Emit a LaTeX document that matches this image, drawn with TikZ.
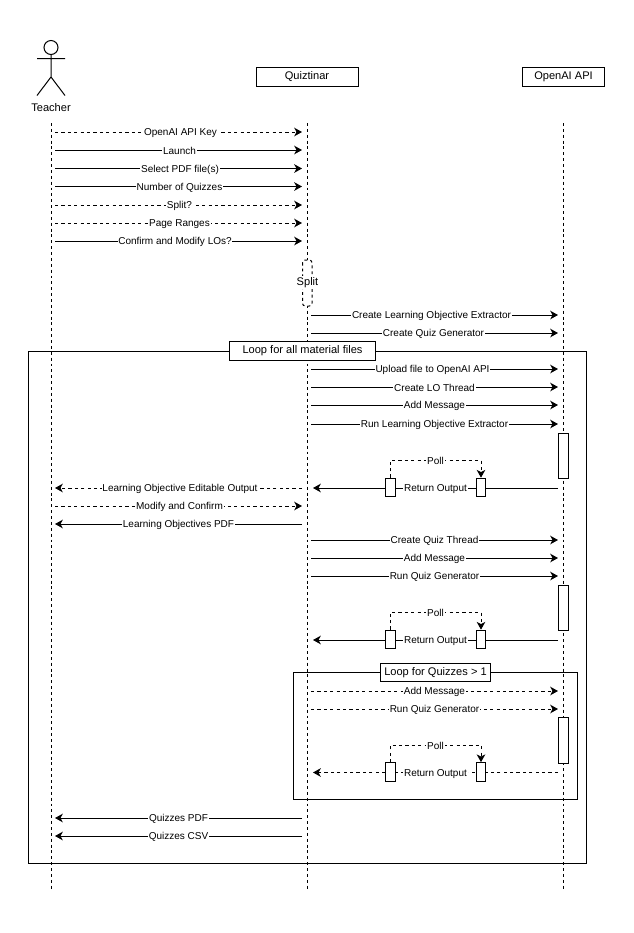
\documentclass[tikz,border=0pt]{standalone}
\usepackage{fontspec}
\setmainfont{Liberation Sans}
\usetikzlibrary{arrows.meta,calc}
\tikzset{
  wire/.style={line width=0.75pt,draw=black},
  solidmsg/.style={wire,-{Stealth[length=5.8pt,width=6.4pt,inset=1.6pt]}},
  dashmsg/.style={solidmsg,dash pattern=on 2.4pt off 2.4pt},
  lifeline/.style={wire,dash pattern=on 2.2pt off 2.2pt},
  txt/.style={font=\fontsize{8.3pt}{9.5pt}\selectfont,inner sep=0.6pt,text=black},
  msglabel/.style={font=\fontsize{7.5pt}{8.5pt}\selectfont,inner sep=0.6pt,text=black,fill=white,yshift=-0.8pt},
  headbox/.style={wire,fill=white,txt,inner sep=0pt,minimum height=14.25pt},
  actbox/.style={wire,fill=white,inner sep=0pt,minimum width=7pt},
  framebox/.style={wire},
  looplabel/.style={wire,fill=white,txt,inner sep=0pt,minimum height=14pt},
}
\newcommand{\msgline}[7]{% name, y, x1, x2, style, label, label x shift
  \coordinate (#1a) at (#3,#2);
  \coordinate (#1b) at (#4,#2);
  \draw[#5] (#1a) -- (#1b);
  \node[msglabel] (#1l) at ($(#1a)!0.5!(#1b)+(#7,0)$) {#6};
}
\newcommand{\pollblock}[6]{% prefix, act top, act bottom, poll y, box top, arrow style
  \node[actbox,minimum height={(#3-#2)*0.75pt}] (#1act) at (563.5,{(#2+#3)/2}) {};
  \coordinate (#1from) at (558,{#5+10});
  \coordinate (#1to) at (313,{#5+10});
  \draw[#6] (#1from) -- (#1to);
  \node[actbox,minimum height=14pt] (#1boxa) at (390.5,{#5+9.5}) {};
  \node[actbox,minimum height=14pt] (#1boxb) at (481,{#5+9.5}) {};
  \node[msglabel] (#1ret) at (435.5,{#5+10}) {Return Output};
  \draw[dashmsg] (#1boxa.north) |- (481,#4) -- (#1boxb.north);
  \node[msglabel] (#1poll) at (435.5,#4) {Poll};
}
\begin{document}
\begin{tikzpicture}[x=0.75pt,y=-0.75pt]
\useasboundingbox[fill=white] (0,0) rectangle (633,933);
% lifelines
\coordinate (tTop) at (51,123); \coordinate (tBot) at (51,891);
\coordinate (qTop) at (307,123); \coordinate (qBot) at (307,891);
\coordinate (oTop) at (563,123); \coordinate (oBot) at (563,891);
\draw[lifeline] (tTop) -- (tBot);
\draw[lifeline] (qTop) -- (qBot);
\draw[lifeline] (oTop) -- (oBot);
% actor
\draw[wire] (51,47.5) circle (7);
\draw[wire] (51,54.5) -- (51,77) (37,58.5) -- (65,58.5) (37,95.5) -- (51,77) -- (65,95.5);
\node[txt] (teacher) at (51,107.5) {Teacher};
% heads
\node[headbox,minimum width=76.5pt] (quiz) at (307,76.5) {Quiztinar};
\node[headbox,minimum width=62pt] (openai) at (563.5,76.5) {OpenAI API};
% frames
\node[framebox,draw,minimum width=418.5pt,minimum height=384pt,inner sep=0pt] (outer) at (307,607) {};
\node[framebox,draw,minimum width=213pt,minimum height=95.5pt,inner sep=0pt] (inner) at (435.5,736) {};
\node[looplabel,minimum width=110pt] (outerl) at (302.5,351) {Loop for all material files};
\node[looplabel,minimum width=83pt] (innerl) at (435.5,672.5) {Loop for Quizzes > 1};
% teacher messages
\msgline{m1}{132}{55}{302}{dashmsg}{OpenAI API Key}{2}
\msgline{m2}{150}{55}{302}{solidmsg}{Launch}{1}
\msgline{m3}{168.5}{55}{302}{solidmsg}{Select PDF file(s)}{1.5}
\msgline{m4}{186.5}{55}{302}{solidmsg}{Number of Quizzes}{1}
\msgline{m5}{205}{55}{302}{dashmsg}{Split?}{1}
\msgline{m6}{223}{55}{302}{dashmsg}{Page Ranges}{1}
\msgline{m7}{241}{55}{302}{solidmsg}{Confirm and Modify LOs?}{-3.5}
% split
\draw[wire,dash pattern=on 2.2pt off 2.2pt,rounded corners=2pt,fill=white] (302.5,260) rectangle (312,306);
\node[txt,fill=white,inner sep=1pt] (split) at (307.5,282.5) {Split};
% quiztinar to openai
\msgline{n1}{315}{311}{558}{solidmsg}{Create Learning Objective Extractor}{-3}
\msgline{n2}{333}{311}{558}{solidmsg}{Create Quiz Generator}{-1}
\msgline{n3}{369}{311}{558}{solidmsg}{Upload file to OpenAI API}{-2}
\msgline{n4}{387}{311}{558}{solidmsg}{Create LO Thread}{0}
\msgline{n5}{405}{311}{558}{solidmsg}{Add Message}{0}
\msgline{n6}{424}{311}{558}{solidmsg}{Run Learning Objective Extractor}{0}
\pollblock{a}{433}{478}{460}{478}{solidmsg}
\msgline{r1}{488}{302}{55}{dashmsg}{Learning Objective Editable Output}{1.5}
\msgline{r2}{506}{55}{302}{dashmsg}{Modify and Confirm}{1}
\msgline{r3}{524}{302}{55}{solidmsg}{Learning Objectives PDF}{0}
\msgline{p1}{540}{311}{558}{solidmsg}{Create Quiz Thread}{0}
\msgline{p2}{558}{311}{558}{solidmsg}{Add Message}{0}
\msgline{p3}{576}{311}{558}{solidmsg}{Run Quiz Generator}{0}
\pollblock{b}{585}{630}{612}{630}{solidmsg}
\msgline{s1}{691}{311}{558}{dashmsg}{Add Message}{0}
\msgline{s2}{709}{311}{558}{dashmsg}{Run Quiz Generator}{0}
\pollblock{c}{717}{763}{745}{762.5}{dashmsg}
\msgline{e1}{818}{302}{55}{solidmsg}{Quizzes PDF}{0}
\msgline{e2}{836}{302}{55}{solidmsg}{Quizzes CSV}{0}
\end{tikzpicture}
\end{document}
